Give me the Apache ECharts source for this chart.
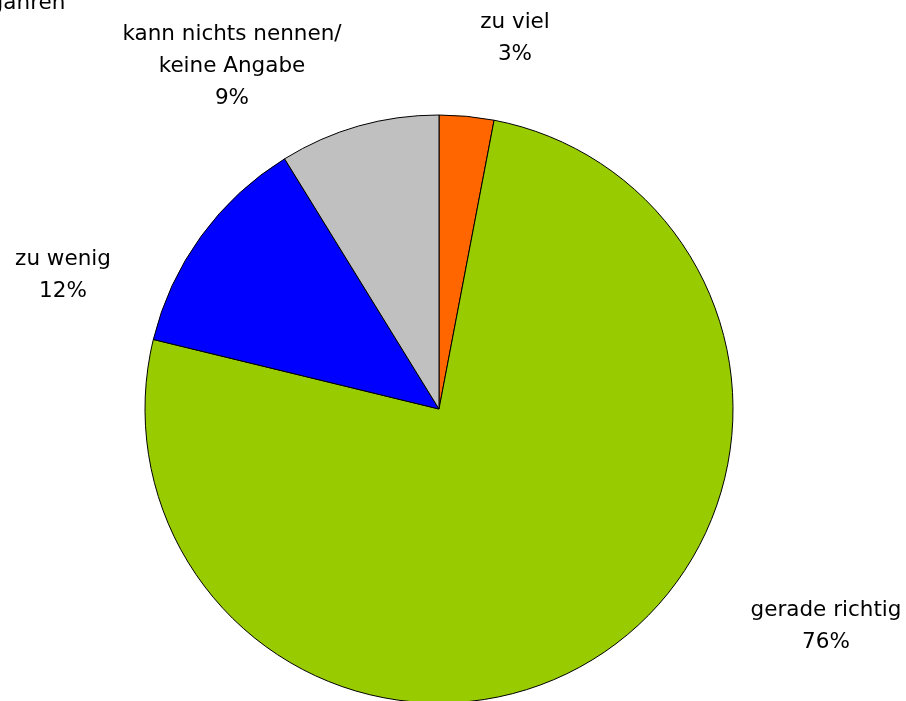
<!DOCTYPE html>
<html>
<head>
<meta charset="utf-8">
<script src="https://cdn.jsdelivr.net/npm/echarts@6/dist/echarts.min.js"></script>
<style>
  html, body { margin: 0; padding: 0; background: #fff; }
  #chart { width: 906px; height: 701px; }
</style>
</head>
<body>
<div id="chart"></div>
<script>
// Anteile in Prozent, im Uhrzeigersinn ab 12 Uhr
var categories = ['zu viel', 'gerade richtig', 'zu wenig', 'kann nichts nennen/\nkeine Angabe']
var values = [3.0, 75.8, 12.4, 8.8]
var colors = ['#FF6600', '#99CC00', '#0000FF', '#C0C0C0']
// Lage der Beschriftungen (Mittelpunkt des Textblocks)
var labelPos = [[515, 38], [826, 626], [63, 275], [232, 66]]

var chart = echarts.init(document.getElementById('chart'))
var font = 'Tahoma, "DejaVu Sans", sans-serif'

chart.setOption({
  animation: false,
  graphic: [{
    type: 'text',
    left: -3,
    top: -8,
    style: { text: 'Jahren', font: '21.5px ' + font, fill: '#000' }
  }],
  series: [{
    type: 'pie',
    center: [439, 409],
    radius: 294,
    startAngle: 90,
    clockwise: true,
    itemStyle: { borderColor: '#000', borderWidth: 1 },
    label: {
      show: true,
      position: 'outside',
      fontFamily: font,
      fontSize: 21.5,
      lineHeight: 32,
      color: '#000',
      align: 'center',
      formatter: function(p) {
        return p.name + '\n' + Math.round(p.value) + '%'
      }
    },
    labelLine: { show: false },
    labelLayout: function(params) {
      var pos = labelPos[params.dataIndex]
      return { x: pos[0], y: pos[1], align: 'center', verticalAlign: 'middle' }
    },
    emphasis: { disabled: true },
    data: categories.map(function(name, i) {
      return { name: name, value: values[i], itemStyle: { color: colors[i] } }
    })
  }]
})
</script>
</body>
</html>
